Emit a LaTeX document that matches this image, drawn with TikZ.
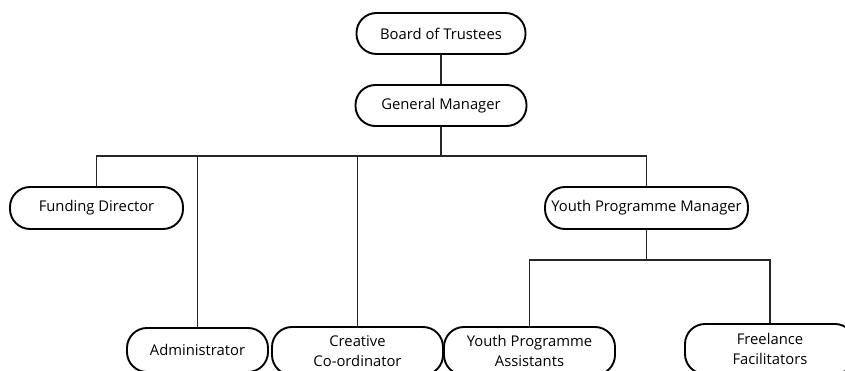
\documentclass[tikz,border=0pt]{standalone}
\usepackage{fontspec}
\setmainfont{Open Sans}
\begin{document}
\begin{tikzpicture}[x=1pt,y=-1pt,
  box/.style={draw=black,line width=1.9pt,rounded corners=20pt,align=center,
    font=\fontsize{14.8}{19.5}\selectfont,inner sep=0pt},
  conn/.style={draw=black!85,line width=1.2pt}]
\useasboundingbox (0,0) rectangle (845,371);
\clip (0,0) rectangle (845,371);
\node[box,minimum width=169pt,minimum height=41pt] (bot) at (441,33.5) {Board of Trustees};
\node[box,minimum width=171pt,minimum height=41pt] (gm) at (441,105.5) {General Manager};
\node[box,minimum width=173pt,minimum height=42pt] (fd) at (96.5,208) {Funding Director};
\node[box,minimum width=203pt,minimum height=42pt] (ypm) at (646.5,208) {Youth Programme Manager};
\node[box,minimum width=141pt,minimum height=44pt] (adm) at (197.5,350) {Administrator};
\node[box,minimum width=171pt,minimum height=48pt] (cc) at (357.5,351) {Creative\\Co-ordinator};
\node[box,minimum width=171pt,minimum height=48pt] (ypa) at (529.5,351) {Youth Programme\\Assistants};
\node[box,minimum width=170pt,minimum height=50pt] (ff) at (770,349) {Freelance\\Facilitators};
\coordinate (b1) at (441,156);
\coordinate (b2) at (646.5,260);
\draw[conn] (bot.south) -- (gm.north);
\draw[conn] (gm.south) -- (b1);
\draw[conn] (fd.north) |- (b1) -| (ypm.north);
\draw[conn] (adm.north) -- (adm.north |- b1);
\draw[conn] (cc.north) -- (cc.north |- b1);
\draw[conn] (ypm.south) -- (b2);
\draw[conn] (ypa.north) |- (b2) -| (ff.north);
\end{tikzpicture}
\end{document}
